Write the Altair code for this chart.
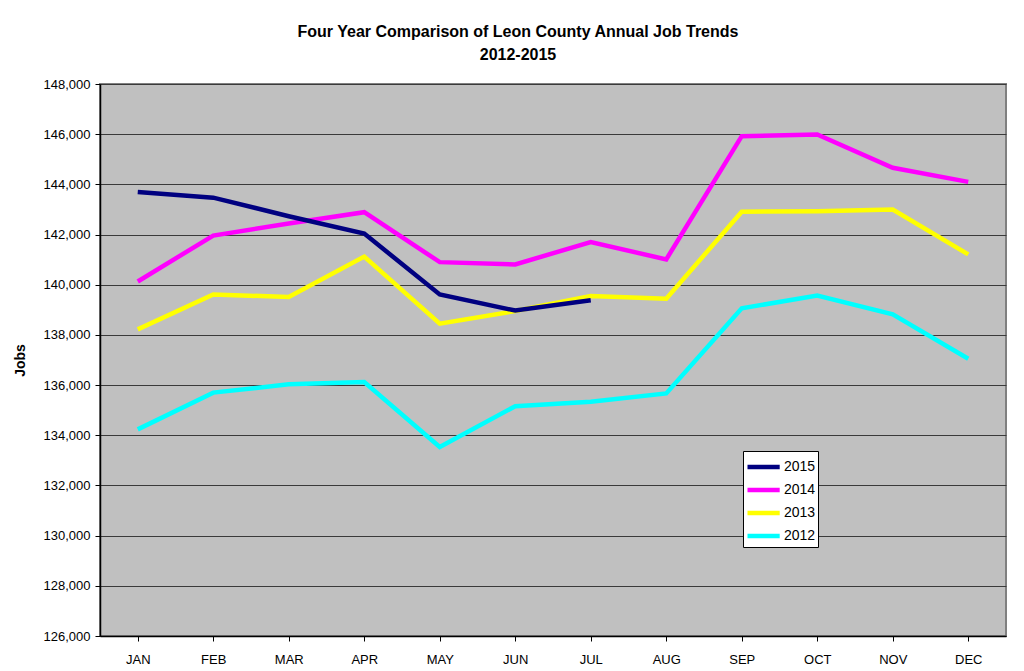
import altair as alt
import pandas as pd

months = ["JAN", "FEB", "MAR", "APR", "MAY", "JUN", "JUL", "AUG", "SEP", "OCT", "NOV", "DEC"]
jobs_2015 = [143700, 143470, 142730, 142040, 139610, 138970, 139380]
jobs_2014 = [140130, 141960, 142440, 142890, 140900, 140810, 141700, 141010, 145920, 145990, 144660, 144100]
jobs_2013 = [138220, 139610, 139510, 141120, 138450, 138950, 139550, 139440, 142910, 142930, 143000, 141210]
jobs_2012 = [134235, 135700, 136030, 136120, 133530, 135160, 135340, 135670, 139060, 139570, 138820, 137050]
series_names = ["2015", "2014", "2013", "2012"]
series_colors = ["#000080", "#FF00FF", "#FFFF00", "#00FFFF"]
y_ticks = list(range(126000, 148001, 2000))

rows = []
for name, vals in [("2012", jobs_2012), ("2013", jobs_2013), ("2014", jobs_2014), ("2015", jobs_2015)]:
    for i, v in enumerate(vals):
        rows.append({"Month": months[i], "Jobs": v, "Year": name, "order": i})
df = pd.DataFrame(rows)

font = "Liberation Sans"

chart = alt.Chart(df).mark_line(strokeWidth=4.5, strokeJoin="miter").encode(
    x=alt.X("Month:N", sort=months,
            scale=alt.Scale(paddingInner=0, paddingOuter=0),
            axis=alt.Axis(title=None, labelAngle=0, bandPosition=0, ticks=True, tickSize=5,
                          tickColor="#000000", domainColor="#000000", domainWidth=1.5,
                          labelFont=font, labelFontSize=13, labelColor="#000000",
                          labelPadding=12, grid=False)),
    y=alt.Y("Jobs:Q",
            scale=alt.Scale(domain=[126000, 148000], nice=False, zero=False),
            axis=alt.Axis(title="Jobs", values=y_ticks, format=",.0f", tickSize=5,
                          tickColor="#000000", domainColor="#000000", domainWidth=1.5,
                          labelFont=font, labelFontSize=13, labelColor="#000000", labelPadding=5,
                          titleFont=font, titleFontSize=14, titleFontWeight="bold", titleColor="#000000",
                          titlePadding=16,
                          grid=True, gridColor="#3a3a3a", gridWidth=1)),
    color=alt.Color("Year:N",
                    scale=alt.Scale(domain=series_names, range=series_colors),
                    legend=alt.Legend(title=None, orient="none", legendX=643, legendY=367,
                                      symbolType="M-1,0H1.8", symbolStrokeWidth=4.5, symbolSize=529,
                                      labelFont=font, labelFontSize=14, labelColor="#000000",
                                      fillColor="#FFFFFF", strokeColor="#000000", padding=2,
                                      rowPadding=0, labelOffset=11)),
    order=alt.Order("order:Q"),
    detail="Year:N",
).properties(
    width=906,
    height=552,
    background="#FFFFFF",
    autosize=alt.AutoSizeParams(type="none"),
    padding={"left": 92, "top": 76, "right": 10, "bottom": 32},
    title=alt.TitleParams(
        text=["Four Year Comparison of Leon County Annual Job Trends", "2012-2015"],
        font=font, fontSize=16, fontWeight="bold", color="#000000",
        anchor="middle", dx=-35, offset=15, lineHeight=23,
    ),
).configure_view(
    fill="#C0C0C0", stroke="#808080", strokeWidth=2
)

chart.save("out.html", embed_options={"renderer": "svg", "actions": False})
